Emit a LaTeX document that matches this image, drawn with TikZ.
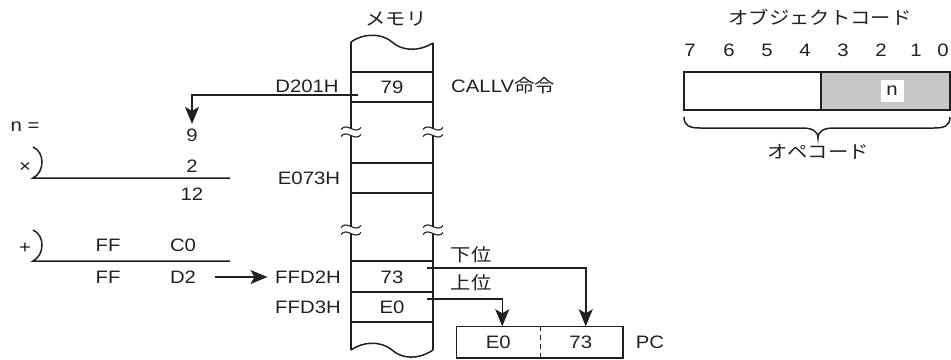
\documentclass[tikz,border=0pt]{standalone}
\usepackage{fontspec}
\setmainfont{Liberation Sans}[FakeStretch=1.13]
\newfontfamily\jp{Noto Sans CJK JP}[FakeStretch=1.13]
\usetikzlibrary{arrows.meta,calc}
\definecolor{ink}{HTML}{231F20}
\definecolor{shade}{HTML}{C8C8C8}
\begin{document}
\begin{tikzpicture}[x=1pt,y=-1pt,line width=1.5pt,draw=ink,
  every node/.style={font=\fontsize{18}{21}\selectfont,text=ink,inner sep=0pt},
  arr/.style={-{Stealth[length=17pt,width=14pt,inset=4pt]}},
  pccell/.style={minimum width=82.5pt,minimum height=30pt},
  brk/.style={line width=1.1pt}]
\useasboundingbox (0,0) rectangle (951,359);

% ---------- memory column ----------
\node (mem) at (396,19) {\jp メモリ};
\draw (351,42) .. controls (362,34) and (380,32) .. (392,42) .. controls (402,51) and (418,52) .. (433,43);
\draw (351,42) -- (351,350);
\draw (433,43) -- (433,350);
\draw (351,350) .. controls (362,342) and (380,340) .. (392,350) .. controls (402,359) and (418,360) .. (433,350);
\foreach \yy in {72,102,163,193,261,292,322} \draw (351,\yy) -- (433,\yy);
% break marks
\foreach \bx in {351,433} \foreach \by in {132,230} {
  \fill[white] ({\bx-10},{\by-2.5}) .. controls ({\bx-4},{\by-10.5}) and ({\bx+4},{\by+3.5}) .. ({\bx+10},{\by-4.5})
     -- ({\bx+10},{\by+2.5}) .. controls ({\bx+4},{\by+10.5}) and ({\bx-4},{\by-3.5}) .. ({\bx-10},{\by+4.5}) -- cycle;
  \draw[brk] ({\bx-10},{\by-2.5}) .. controls ({\bx-4},{\by-10.5}) and ({\bx+4},{\by+3.5}) .. ({\bx+10},{\by-4.5});
  \draw[brk] ({\bx-10},{\by+4.5}) .. controls ({\bx-4},{\by-3.5}) and ({\bx+4},{\by+10.5}) .. ({\bx+10},{\by+2.5});
}
\node (a201) at (307,86) {D201H};
\node (c79) at (392,87) {79};
\node (callv) at (503,86) {CALLV{\jp 命令}};
\node (ae073) at (309,178) {E073H};
\node (affd2) at (308,277) {FFD2H};
\node (c73) at (392,277) {73};
\node (affd3) at (308,307) {FFD3H};
\node (ce0) at (392,307) {E0};
\node (lo) at (471,255) {\jp 下位};
\node (hi) at (471,283) {\jp 上位};

% ---------- left calculations ----------
\node (neq) at (25,127) {n =};
\node (n9) at (192,135) {9};
\node (times) at (25,167) {×};
\node (n2) at (192,166) {2};
\node (n12) at (192,194) {12};
\draw (33,147) .. controls (45,152) and (45,172) .. (33,178) -- (230,178);
\node (plus) at (25,248) {+};
\node (ff1) at (108,245) {FF};
\node (c0) at (183,245) {C0};
\draw (33,230) .. controls (45,235) and (45,255) .. (33,261) -- (230,261);
\node (ff2) at (108,277) {FF};
\node (d2) at (183,277) {D2};
\draw[arr,shorten <=18pt,shorten >=7pt] (d2) -- (affd2);

% ---------- PC register ----------
\node[pccell] (pce0) at (498.25,342) {E0};
\node[pccell] (pc73) at (580.75,342) {73};
\draw (pce0.north west) rectangle (pc73.south east);
\draw[line width=1.3pt,dash pattern=on 5pt off 4pt] (pce0.north east) -- (pce0.south east);
\node (pc) at (650,342) {PC};

% ---------- connectors ----------
\coordinate (t79) at (358,95);
\draw[arr,shorten >=4pt] (t79) -| (n9.north);
\coordinate (tlo) at (427,268);
\draw[arr] (tlo) -| ([xshift=5pt]pc73.north);
\coordinate (thi) at (427,299);
\draw[arr] (thi) -| ([xshift=4pt]pce0.north);

% ---------- object code ----------
\node (title) at (820,17) {\jp オブジェクトコード};
\foreach \d/\x in {7/690,6/729,5/767,4/805,3/843,2/881,1/916,0/943}
  \node (b\d) at (\x,50) {\d};
\node[draw,minimum width=137pt,minimum height=38pt] (hinib) at (752.5,91) {};
\node[draw,fill=shade,minimum width=129pt,minimum height=38pt] (lonib) at (885.5,91) {};
\node[fill=white,minimum width=23pt,minimum height=22pt] (nn) at (892,91) {n};
\draw (684,117) .. controls (684,126) and (690,128) .. (700,128) -- (802,128)
  .. controls (812,128) and (818,131) .. (818,138)
  .. controls (818,131) and (824,128) .. (834,128) -- (934,128)
  .. controls (944,128) and (950,126) .. (950,117);
\node (opc) at (818,152) {\jp オペコード};
\end{tikzpicture}
\end{document}
